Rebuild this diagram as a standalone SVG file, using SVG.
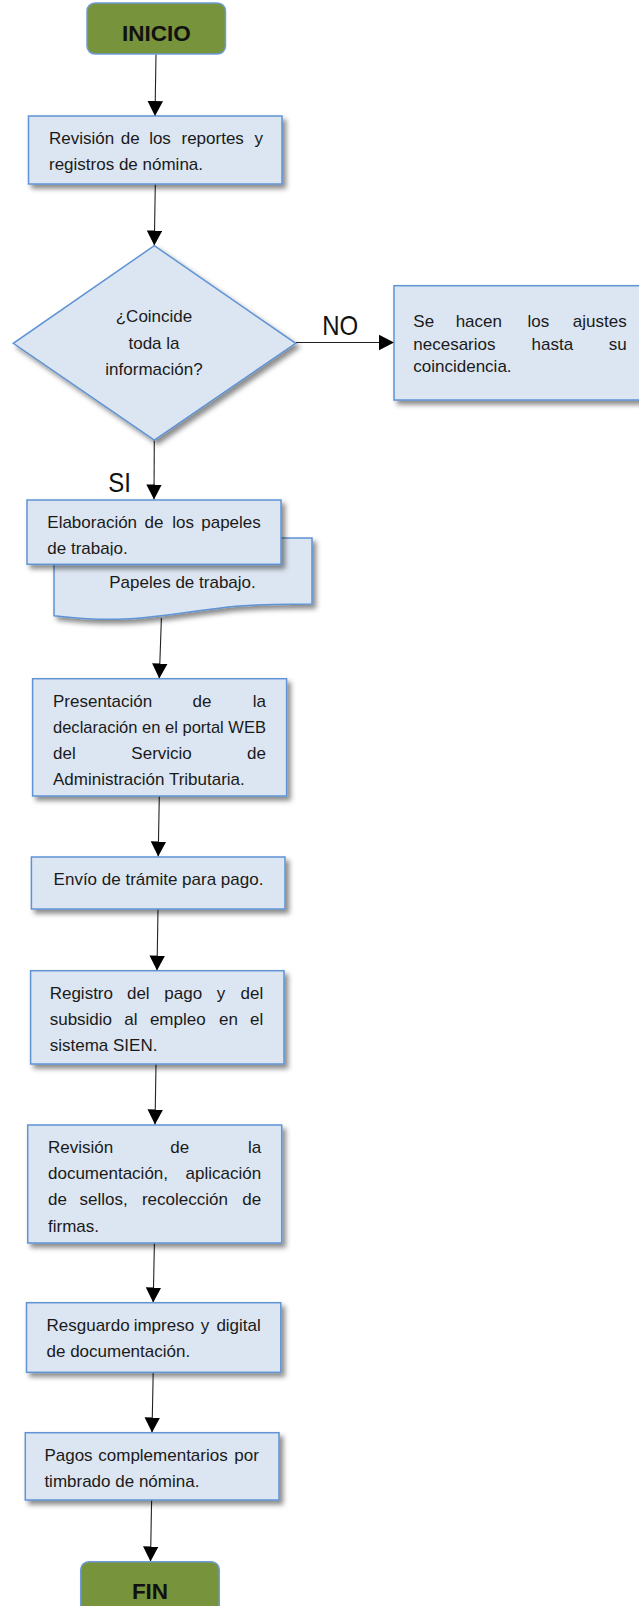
<svg xmlns="http://www.w3.org/2000/svg" width="639" height="1606" viewBox="0 0 639 1606">
<style>
.box{fill:#DCE6F2;stroke:#5F93D3;stroke-width:1.5;filter:url(#sh)}
.term{fill:#77933C;stroke:#6E9CD8;stroke-width:1.5}
.t{font-family:"Liberation Sans",Arial,sans-serif;font-size:17px;fill:#1a1a1a}
.b{font-family:"Liberation Sans",Arial,sans-serif;font-size:22.5px;font-weight:bold;fill:#111;text-anchor:middle}
.lbl{font-family:"Liberation Sans",Arial,sans-serif;font-size:24px;fill:#111;text-anchor:middle}
.m{text-anchor:middle}
.e{text-anchor:end}
.c{stroke:#222;stroke-width:1.1;fill:none;marker-end:url(#ah)}
</style>
<defs>
<filter id="sh" x="-10%" y="-10%" width="130%" height="140%">
<feDropShadow dx="3.5" dy="4" stdDeviation="2.5" flood-color="#000" flood-opacity="0.45"/>
</filter>
<marker id="ah" markerUnits="userSpaceOnUse" markerWidth="16" markerHeight="16" refX="15" refY="7.75" orient="auto">
<path d="M0,0 L15,7.75 L0,15.5 Z" fill="#000"/>
</marker>
<clipPath id="clipElab"><rect x="27" y="500" width="254" height="55.5"/></clipPath>
</defs>
<rect width="639" height="1606" fill="#fff"/>

<g id="connectors">
<line class="c" x1="156" y1="54" x2="155" y2="116"/>
<line class="c" x1="155.3" y1="184" x2="154.3" y2="245.5"/>
<line class="c" x1="154.3" y1="440" x2="154" y2="499.5"/>
<line class="c" x1="295.7" y1="342.5" x2="394" y2="342.5"/>
<line class="c" x1="161.4" y1="618" x2="159.3" y2="678.5"/>
<line class="c" x1="159.3" y1="796" x2="158.2" y2="856.5"/>
<line class="c" x1="158" y1="909" x2="157" y2="970.5"/>
<line class="c" x1="156" y1="1064" x2="155" y2="1124.5"/>
<line class="c" x1="154.4" y1="1243" x2="153.2" y2="1302.5"/>
<line class="c" x1="153.2" y1="1372.3" x2="152" y2="1432.5"/>
<line class="c" x1="151.6" y1="1500" x2="150.5" y2="1561.5"/>
<text class="lbl" transform="translate(340.2,335) scale(1,1.15)">NO</text>
<text class="lbl" transform="translate(119.5,491.5) scale(1,1.15)">SI</text>
</g>

<g id="inicio">
<rect class="term" x="87" y="3" width="138.5" height="51" rx="8"/>
<text class="b" x="156.3" y="40.5">INICIO</text>
</g>

<g id="revision-reportes">
<rect class="box" x="28.5" y="116" width="253.5" height="68"/>
<text class="t" x="49" y="144">Revisión</text>
<text class="t m" x="130.2" y="144">de</text>
<text class="t m" x="160" y="144">los</text>
<text class="t m" x="212.7" y="144">reportes</text>
<text class="t e" x="263" y="144">y</text>
<text class="t" x="49" y="170">registros de nómina.</text>
</g>

<g id="decision">
<polygon class="box" points="154.3,245.7 295.7,343.3 154.3,440 13.3,343.3"/>
<text class="t m" x="154" y="322">¿Coincide</text>
<text class="t m" x="154" y="349">toda la</text>
<text class="t m" x="154" y="375">información?</text>
</g>

<g id="ajustes">
<rect class="box" x="394" y="285.7" width="262" height="114.3"/>
<text class="t" x="413.3" y="327">Se</text>
<text class="t m" x="478.8" y="327">hacen</text>
<text class="t m" x="538.3" y="327">los</text>
<text class="t e" x="626.7" y="327">ajustes</text>
<text class="t" x="413.3" y="349.5">necesarios</text>
<text class="t m" x="552.3" y="349.5">hasta</text>
<text class="t e" x="626.7" y="349.5">su</text>
<text class="t" x="413.3" y="372">coincidencia.</text>
</g>

<g id="papeles-doc">
<path class="box" d="M54,538 L312,538 L312,604 C290,604 260,604 228,607 C175,613.5 150,619 118,619.3 C100,619.5 80,619 54,615.7 Z"/>
<text class="t m" x="182.5" y="588">Papeles de trabajo.</text>
</g>

<g id="elaboracion">
<rect class="box" x="27" y="500" width="254" height="64.3"/>
<g clip-path="url(#clipElab)">
<text class="t" x="47.3" y="528.3">Elaboración</text>
<text class="t m" x="154" y="528.3">de</text>
<text class="t m" x="183.2" y="528.3">los</text>
<text class="t e" x="260.8" y="528.3">papeles</text>
<text class="t" x="47.3" y="554">de trabajo.</text>
</g>
</g>

<g id="presentacion">
<rect class="box" x="32.6" y="678.7" width="254" height="117.3"/>
<text class="t" x="53" y="706.7">Presentación</text>
<text class="t m" x="202" y="706.7">de</text>
<text class="t e" x="266" y="706.7">la</text>
<text class="t" x="53" y="733.3" textLength="213" lengthAdjust="spacingAndGlyphs">declaración en el portal WEB</text>
<text class="t" x="53" y="759.3">del</text>
<text class="t m" x="161.6" y="759.3">Servicio</text>
<text class="t e" x="266" y="759.3">de</text>
<text class="t" x="53" y="785">Administración Tributaria.</text>
</g>

<g id="envio">
<rect class="box" x="31.4" y="857" width="253.6" height="52"/>
<text class="t m" x="158.5" y="885">Envío de trámite para pago.</text>
</g>

<g id="registro">
<rect class="box" x="30.6" y="970.7" width="253.4" height="93.3"/>
<text class="t" x="49.7" y="999.3">Registro</text>
<text class="t m" x="138.3" y="999.3">del</text>
<text class="t m" x="183.2" y="999.3">pago</text>
<text class="t m" x="221" y="999.3">y</text>
<text class="t e" x="263.2" y="999.3">del</text>
<text class="t" x="49.7" y="1025">subsidio</text>
<text class="t m" x="130.9" y="1025">al</text>
<text class="t m" x="177.8" y="1025">empleo</text>
<text class="t m" x="228.5" y="1025">en</text>
<text class="t e" x="263.2" y="1025">el</text>
<text class="t" x="49.7" y="1050.7">sistema SIEN.</text>
</g>

<g id="revision-documentacion">
<rect class="box" x="27.7" y="1125" width="254" height="118"/>
<text class="t" x="48" y="1153.3">Revisión</text>
<text class="t m" x="179.8" y="1153.3">de</text>
<text class="t e" x="261.2" y="1153.3">la</text>
<text class="t" x="48" y="1179.3">documentación,</text>
<text class="t e" x="261.2" y="1179.3">aplicación</text>
<text class="t" x="48" y="1205">de</text>
<text class="t m" x="103.7" y="1205">sellos,</text>
<text class="t m" x="184.9" y="1205">recolección</text>
<text class="t e" x="261.2" y="1205">de</text>
<text class="t" x="48" y="1231.5">firmas.</text>
</g>

<g id="resguardo">
<rect class="box" x="26.5" y="1302.7" width="254.3" height="69.6"/>
<text class="t" x="46.5" y="1330.7">Resguardo</text>
<text class="t m" x="163.9" y="1330.7">impreso</text>
<text class="t m" x="205" y="1330.7">y</text>
<text class="t e" x="260.8" y="1330.7">digital</text>
<text class="t" x="46.5" y="1356.7">de documentación.</text>
</g>

<g id="pagos">
<rect class="box" x="25.3" y="1432.7" width="253.7" height="67.3"/>
<text class="t" x="44.4" y="1460.7">Pagos</text>
<text class="t m" x="163" y="1460.7">complementarios</text>
<text class="t e" x="258.8" y="1460.7">por</text>
<text class="t" x="44.4" y="1486.7">timbrado de nómina.</text>
</g>

<g id="fin">
<rect class="term" x="80.7" y="1561.7" width="138.6" height="52" rx="8"/>
<text class="b" x="150" y="1599.3">FIN</text>
</g>
</svg>
